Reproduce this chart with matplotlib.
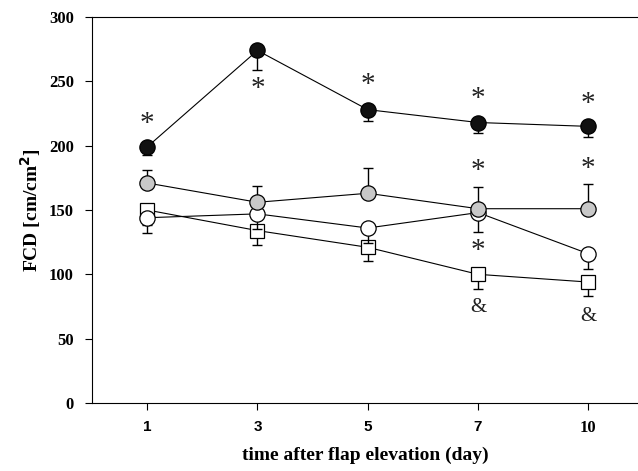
import matplotlib
matplotlib.use("Agg")
import matplotlib.pyplot as plt
import numpy as np

days = ["1", "3", "5", "7", "10"]

black_mean = [199, 274, 228, 218, 215]
black_err = [6.5, 15.5, 9, 8, 8]        # shown downward
gray_mean = [171, 156, 163, 151, 151]
gray_err = [10, 13, 20, 17, 19]          # shown upward
white_mean = [144, 147, 136, 148, 116]
white_err = [12, 12, 12, 15, 12]         # shown downward
square_mean = [150, 134, 121, 100, 94]
square_err = [12, 11.5, 11, 11.5, 11]    # shown downward

# significance marks: (day index, y value, text)
star_marks = [(0, 217, "*"), (1, 244, "*"), (2, 247, "*"), (3, 236, "*"), (4, 232, "*"),
              (3, 180, "*"), (4, 182, "*"), (3, 118, "*")]
amp_marks = [(3, 74, "&"), (4, 67, "&")]

plt.rcParams['font.family'] = ['Liberation Serif', 'DejaVu Serif']


def main():
    fig = plt.figure(figsize=(6.38, 4.71), dpi=100)
    ax = fig.add_axes([92 / 638, 68 / 471, 546 / 638, 386 / 471])
    x = np.arange(len(days))

    def draw(mean, err, up, marker, face, ms, z):
        zeros = np.zeros(len(err))
        yerr = [zeros, err] if up else [err, zeros]
        ax.errorbar(x, mean, yerr=yerr, fmt='-', color='black', lw=0.8,
                    elinewidth=1.0, capsize=3.5, capthick=1.0, zorder=z)
        ax.plot(x, mean, linestyle='none', marker=marker, markersize=ms,
                markerfacecolor=face, markeredgecolor='black', markeredgewidth=0.9,
                zorder=z + 0.5)

    draw(square_mean, square_err, False, 's', 'white', 9.5, 2)
    draw(white_mean, white_err, False, 'o', 'white', 11, 3)
    draw(gray_mean, gray_err, True, 'o', '#c8c8c8', 11, 4)
    draw(black_mean, black_err, False, 'o', '#111111', 11, 5)

    for i, y, t in star_marks:
        ax.text(i, y, t, ha='center', va='center', fontsize=21, color='#222222')
    for i, y, t in amp_marks:
        ax.text(i, y, t, ha='center', va='center', fontsize=15, color='#222222')

    ax.set_xlim(-0.5, 4.45)
    ax.set_ylim(0, 300)
    ax.set_xticks(x)
    ax.set_xticklabels(days)
    ax.set_yticks(np.arange(0, 301, 50))
    ax.tick_params(direction='out', length=5, width=0.8, labelsize=12)
    ax.tick_params(axis='y', pad=8)
    ax.tick_params(axis='x', pad=7)
    for lab in ax.get_xticklabels() + ax.get_yticklabels():
        lab.set_fontweight('bold')
    # the single-digit day labels are set in a sans face in the original
    for lab in ax.get_xticklabels():
        if len(lab.get_text()) == 1:
            lab.set_family(['Liberation Sans', 'DejaVu Sans'])
            lab.set_fontsize(11)
    ax.spines['right'].set_visible(False)
    for s in ['left', 'bottom', 'top']:
        ax.spines[s].set_linewidth(0.8)

    ax.set_xlabel("time after flap elevation (day)", fontsize=14, fontweight='bold', labelpad=8)
    ax.set_ylabel("FCD [cm/cm$^\\mathbf{2}$]", fontsize=14, fontweight='bold', labelpad=4)

    fig.savefig("out.png", dpi=100)


if __name__ == "__main__":
    main()
